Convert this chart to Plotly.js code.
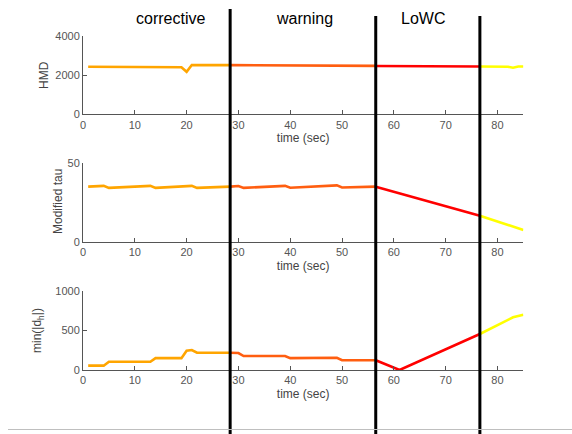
<!DOCTYPE html>
<html>
<head>
<meta charset="utf-8">
<script src="https://cdn.plot.ly/plotly-3.0.1.min.js"></script>
<style>html,body{margin:0;padding:0;background:#fff;}#chart{width:572px;height:434px;}</style>
</head>
<body>
<div id="chart"></div>
<script>
// Phase boundaries (sec)
const phaseBounds = [28.4, 56.5, 76.6];
const phaseNames = ["corrective", "warning", "LoWC"];
const yTitles = ["HMD", "Modified tau", "min(|d<sub>h</sub>|)"];

// HMD
const hmdCorrT = [1, 19, 20, 21, 28.4];
const hmdCorrV = [2430, 2400, 2170, 2520, 2510];
const hmdWarnT = [28.4, 56.5];
const hmdWarnV = [2510, 2475];
const hmdLowcT = [56.5, 76.6];
const hmdLowcV = [2470, 2440];
const hmdPostT = [76.6, 80, 82, 83, 84, 85];
const hmdPostV = [2440, 2440, 2430, 2380, 2440, 2440];

// Modified tau
const tauCorrT = [1, 4, 5, 13, 14, 21, 22, 28.4];
const tauCorrV = [35.1, 35.6, 34.3, 35.6, 34.3, 35.6, 34.3, 35.1];
const tauWarnT = [28.4, 30, 31, 39, 40, 49, 50, 56.5];
const tauWarnV = [35.1, 35.5, 34.3, 35.6, 34.4, 35.9, 34.6, 35.1];
const tauLowcT = [56.5, 76.6];
const tauLowcV = [35.1, 16.6];
const tauPostT = [76.6, 85];
const tauPostV = [16.6, 7.5];

// min(|d_h|)
const dhCorrT = [1, 4, 5, 13, 14, 19, 20, 21, 22, 28.4];
const dhCorrV = [55, 55, 105, 105, 150, 150, 245, 253, 219, 219];
const dhWarnT = [28.4, 30, 31, 39, 40, 49, 50, 56.5];
const dhWarnV = [219, 215, 177, 177, 150, 155, 123, 123];
const dhLowcT = [56.5, 61.1, 76.6];
const dhLowcV = [123, 0, 456];
const dhPostT = [76.6, 80, 83, 85];
const dhPostV = [456, 565, 667, 700];

const cCorr = "#FFA500", cWarn = "#FF5E10", cLowc = "#FF0000", cPost = "#FFFF00";
const font = "Liberation Sans, Arial, sans-serif";

function seg(x, y, color, xa, ya) {
  return {x: x, y: y, type: "scatter", mode: "lines", xaxis: xa, yaxis: ya,
          line: {color: color, width: 2.6}, hoverinfo: "skip", showlegend: false};
}

const data = [
  seg(hmdCorrT, hmdCorrV, cCorr, "x", "y"),
  seg(hmdWarnT, hmdWarnV, cWarn, "x", "y"),
  seg(hmdLowcT, hmdLowcV, cLowc, "x", "y"),
  seg(hmdPostT, hmdPostV, cPost, "x", "y"),
  seg(tauCorrT, tauCorrV, cCorr, "x2", "y2"),
  seg(tauWarnT, tauWarnV, cWarn, "x2", "y2"),
  seg(tauLowcT, tauLowcV, cLowc, "x2", "y2"),
  seg(tauPostT, tauPostV, cPost, "x2", "y2"),
  seg(dhCorrT, dhCorrV, cCorr, "x3", "y3"),
  seg(dhWarnT, dhWarnV, cWarn, "x3", "y3"),
  seg(dhLowcT, dhLowcV, cLowc, "x3", "y3"),
  seg(dhPostT, dhPostV, cPost, "x3", "y3")
];

const axCol = "#555555";
function xax(anchor) {
  return {domain: [83/572, 523.4/572], range: [0, 85], anchor: anchor, dtick: 10, tick0: 0,
          showline: true, linecolor: axCol, linewidth: 1, ticks: "inside", ticklen: 4, tickcolor: axCol,
          showgrid: false, zeroline: false, tickfont: {family: font, size: 11, color: axCol},
          title: {text: "time (sec)", font: {family: font, size: 12, color: "#444"}, standoff: 4}};
}
function yax(anchor, dom, rng, dt) {
  return {domain: dom, range: rng, anchor: anchor, dtick: dt, tick0: 0,
          showline: true, linecolor: axCol, linewidth: 1, ticks: "inside", ticklen: 4, tickcolor: axCol,
          showgrid: false, zeroline: false, tickfont: {family: font, size: 11, color: axCol}};
}

const shapes = phaseBounds.map((b, i) => ({
  type: "line", xref: "x", yref: "paper", x0: b, x1: b, y0: 0, y1: i === 0 ? (434-9)/434 : (434-16)/434,
  line: {color: "#000", width: 3}
}));
shapes.push({type: "line", xref: "paper", yref: "paper", x0: 8/572, x1: 1, y0: 4.5/434, y1: 4.5/434,
             line: {color: "#bfbfbf", width: 1}});

const labelX = [170/572, 304/572, 422.5/572];
const annotations = phaseNames.map((n, i) => ({
  text: n, xref: "paper", yref: "paper", x: labelX[i], y: (434-19)/434, xanchor: "center", yanchor: "middle",
  showarrow: false, font: {family: font, size: 16, color: "#000"}
}));
const yTitleX = [44, 58, 38];
const yTitleY = [75, 202, 331];
yTitles.forEach((t, i) => annotations.push({
  text: t, xref: "paper", yref: "paper", x: yTitleX[i]/572, y: (434-yTitleY[i])/434,
  xanchor: "center", yanchor: "middle", textangle: -90, showarrow: false,
  font: {family: font, size: 12, color: "#444"}
}));

const layout = {
  width: 572, height: 434, margin: {l: 0, r: 0, t: 0, b: 0},
  paper_bgcolor: "#fff", plot_bgcolor: "#fff", showlegend: false,
  xaxis: xax("y"), xaxis2: xax("y2"), xaxis3: xax("y3"),
  yaxis: yax("x", [(434-114.3)/434, (434-36)/434], [0, 4000], 2000),
  yaxis2: yax("x2", [(434-241.7)/434, (434-163.3)/434], [0, 50], 50),
  yaxis3: yax("x3", [(434-370)/434, (434-291)/434], [0, 1000], 500),
  shapes: shapes, annotations: annotations
};

Plotly.newPlot("chart", data, layout, {displayModeBar: false, staticPlot: true});
</script>
</body>
</html>
